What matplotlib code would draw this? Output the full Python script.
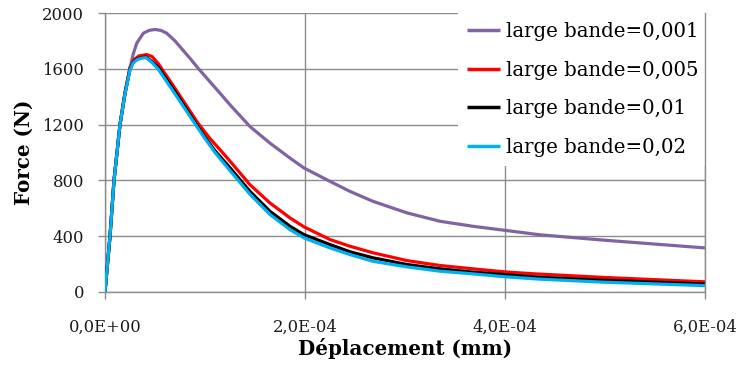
import matplotlib
matplotlib.use("Agg")
import matplotlib.pyplot as plt
import numpy as np

# ---- data: displacement (units of 1e-6 mm) and force (N) ----
x_001 = [0, 5, 9, 15, 20, 23.3, 28, 31.7, 38.3, 44, 50, 56, 61.7, 70, 85, 93, 115, 125, 145,
         165, 185, 199, 225, 245, 268, 302, 335, 368, 400, 435, 500, 600]
f_001 = [0, 400, 800, 1200, 1430, 1544, 1700, 1783, 1855, 1875, 1882, 1875, 1855, 1800, 1675,
         1605, 1425, 1342, 1186, 1067, 960, 889, 793, 721, 650, 567, 507, 471, 442, 410, 371, 316]

x_005 = [0, 5, 9, 15, 20, 25, 29, 34, 41.7, 47, 53, 70, 93, 105, 115, 125, 145, 165, 185, 199,
         225, 245, 268, 302, 335, 368, 400, 430, 500, 600]
f_005 = [0, 400, 800, 1200, 1430, 1610, 1665, 1692, 1702, 1688, 1640, 1460, 1210, 1100, 1020,
         938, 769, 638, 531, 467, 376, 328, 281, 225, 190, 166, 144, 130, 104, 73]

x_01 = [0, 5, 9, 15, 20, 25, 28, 32, 36, 41, 47, 53, 70, 90, 100, 110, 125, 145, 165, 185,
        199, 225, 245, 268, 302, 335, 368, 400, 435, 500, 600]
f_01 = [0, 400, 800, 1200, 1422, 1598, 1645, 1670, 1680, 1684, 1652, 1612, 1435, 1215, 1110,
        1012, 890, 721, 578, 471, 411, 340, 288, 245, 197, 166, 142, 125, 105, 84, 57]

x_02 = [0, 5, 9, 15, 20, 25, 28, 32, 36, 41, 47, 53, 70, 90, 100, 110, 125, 145, 165, 185,
        199, 225, 245, 268, 302, 335, 368, 400, 435, 500, 600]
f_02 = [0, 400, 800, 1200, 1420, 1592, 1640, 1665, 1676, 1680, 1645, 1600, 1420, 1206, 1100,
        1000, 870, 700, 555, 447, 388, 316, 268, 220, 180, 149, 130, 109, 92, 70, 46]

labels = ["large bande=0,001", "large bande=0,005", "large bande=0,01", "large bande=0,02"]
colors = ["#8064A2", "#FF0000", "#000000", "#00B0F0"]

xticks = [0, 2e-4, 4e-4, 6e-4]
xtick_labels = ["0,0E+00", "2,0E-04", "4,0E-04", "6,0E-04"]
yticks = [0, 400, 800, 1200, 1600, 2000]
ytick_labels = ["0", "400", "800", "1200", "1600", "2000"]

series = [(x_001, f_001), (x_005, f_005), (x_01, f_01), (x_02, f_02)]

plt.rcParams['font.family'] = ['DejaVu Serif']

fig = plt.figure(figsize=(7.4, 3.67), dpi=100)
ax = fig.add_axes([105/740, 75/367, 600/740, 279/367])

grid_c = "#8C8C8C"
for (xs, fs), lab, c in zip(series, labels, colors):
    ax.plot(np.array(xs) * 1e-6, fs, color=c, lw=2.3, label=lab,
            solid_joinstyle='round', solid_capstyle='butt', zorder=3)

ax.set_xlim(0, 6e-4)
ax.set_ylim(0, 2000)
ax.set_xticks(xticks)
ax.set_xticklabels(xtick_labels)
ax.set_yticks(yticks)
ax.set_yticklabels(ytick_labels)
ax.grid(True, color=grid_c, lw=1.0, zorder=0)
ax.set_axisbelow(True)
ax.spines["top"].set_visible(False)
for s in ["left", "bottom", "right"]:
    ax.spines[s].set_color(grid_c)
    ax.spines[s].set_linewidth(1.0)
ax.spines["right"].set_zorder(6)
ax.tick_params(axis='both', direction='out', length=5, width=1.0, color=grid_c,
               labelsize=11.8, labelcolor="#1a1a1a")
ax.tick_params(axis='y', pad=10, right=False)
ax.tick_params(axis='x', pad=14)

ax.set_xlabel("Déplacement (mm)", fontsize=14.3, fontweight='bold', labelpad=2)
ax.set_ylabel("Force (N)", fontsize=14.3, fontweight='bold', labelpad=6)

leg = ax.legend(loc='upper left', bbox_to_anchor=((458 - 105) / 600, 1.0), borderaxespad=0,
                frameon=True, facecolor='white', edgecolor='none', framealpha=1,
                fontsize=14.2, handlelength=1.7, handletextpad=0.26, labelspacing=1.0,
                borderpad=0.45, fancybox=False)
leg.set_zorder(5)
for line in leg.get_lines():
    line.set_linewidth(2.5)

fig.savefig("out.png", dpi=100)
